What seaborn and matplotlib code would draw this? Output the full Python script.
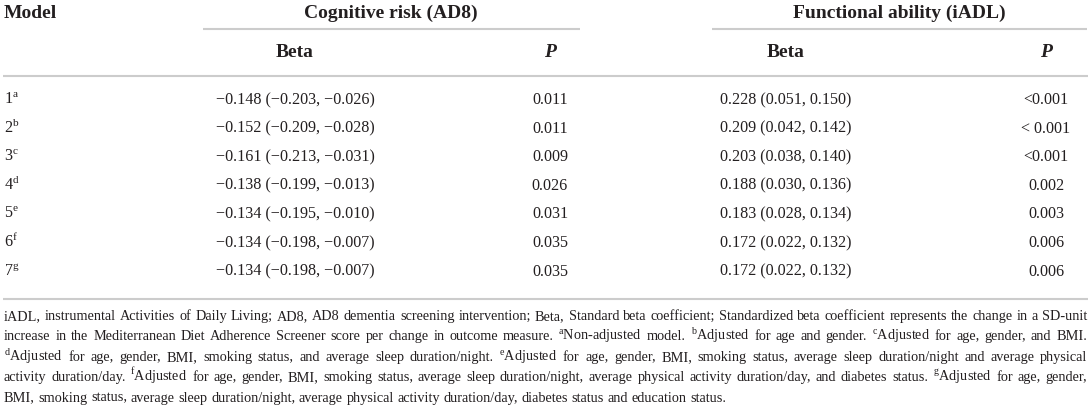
import matplotlib
matplotlib.use("Agg")
import matplotlib.pyplot as plt
import seaborn as sns

models = ["1", "2", "3", "4", "5", "6", "7"]
model_sups = ["a", "b", "c", "d", "e", "f", "g"]
cog_beta = ["\u22120.148 (\u22120.203, \u22120.026)", "\u22120.152 (\u22120.209, \u22120.028)",
            "\u22120.161 (\u22120.213, \u22120.031)", "\u22120.138 (\u22120.199, \u22120.013)",
            "\u22120.134 (\u22120.195, \u22120.010)", "\u22120.134 (\u22120.198, \u22120.007)",
            "\u22120.134 (\u22120.198, \u22120.007)"]
cog_p = ["0.011", "0.011", "0.009", "0.026", "0.031", "0.035", "0.035"]
fun_beta = ["0.228 (0.051, 0.150)", "0.209 (0.042, 0.142)", "0.203 (0.038, 0.140)",
            "0.188 (0.030, 0.136)", "0.183 (0.028, 0.134)", "0.172 (0.022, 0.132)",
            "0.172 (0.022, 0.132)"]
fun_p = ["<0.001", "< 0.001", "<0.001", "0.002", "0.003", "0.006", "0.006"]

group_titles = ["Cognitive risk (AD8)", "Functional ability (iADL)"]

footnote_lines = [
    "iADL, instrumental Activities of Daily Living; AD8, AD8 dementia screening intervention; Beta, Standard beta coefficient; Standardized beta coefficient represents the change in a SD-unit",
    "increase in the Mediterranean Diet Adherence Screener score per change in outcome measure. $^{\\mathrm{a}}$Non-adjusted model. $^{\\mathrm{b}}$Adjusted for age and gender. $^{\\mathrm{c}}$Adjusted for age, gender, and BMI.",
    "$^{\\mathrm{d}}$Adjusted for age, gender, BMI, smoking status, and average sleep duration/night. $^{\\mathrm{e}}$Adjusted for age, gender, BMI, smoking status, average sleep duration/night and average physical",
    "activity duration/day. $^{\\mathrm{f}}$Adjusted for age, gender, BMI, smoking status, average sleep duration/night, average physical activity duration/day, and diabetes status. $^{\\mathrm{g}}$Adjusted for age, gender,",
    "BMI, smoking status, average sleep duration/night, average physical activity duration/day, diabetes status and education status.",
]

sns.set_theme(style="white")
plt.rcParams["font.family"] = ["Liberation Serif", "DejaVu Serif"]
plt.rcParams["mathtext.fontset"] = "custom"
plt.rcParams["mathtext.rm"] = "Liberation Serif"

txt = "#231f20"
rule = "#cccccc"
hsize, bsize, fsize = 14, 11.6, 10.3

fig = plt.figure(figsize=(10.91, 4.10), dpi=100)
ax = fig.add_axes([0, 0, 1, 1])
ax.set_xlim(0, 1091)
ax.set_ylim(410, 0)
ax.axis("off")

# header
ax.text(4, 18, "Model", fontsize=hsize, fontweight="bold", color=txt, va="baseline")
ax.text(391, 18, group_titles[0], fontsize=hsize, fontweight="bold", color=txt, ha="center", va="baseline")
ax.text(899, 18, group_titles[1], fontsize=hsize, fontweight="bold", color=txt, ha="center", va="baseline")
ax.hlines(30, 203, 580, color=rule, lw=1.5)
ax.hlines(30, 712, 1087, color=rule, lw=1.5)

col_x = [295, 550, 786, 1046]
for x, lab in zip(col_x, ["Beta", "P", "Beta", "P"]):
    style = "italic" if lab == "P" else "normal"
    ax.text(x, 57, lab, fontsize=hsize, fontweight="bold", fontstyle=style, color=txt,
            ha="center", va="baseline")
ax.hlines(77, 3, 1088, color=rule, lw=1.5)

# body rows
row_y = [104 + 28.6 * i for i in range(len(models))]
for i, y in enumerate(row_y):
    ax.text(4, y, models[i] + "$^{\\mathrm{" + model_sups[i] + "}}$", fontsize=bsize, color=txt, va="baseline")
    ax.text(col_x[0], y, cog_beta[i], fontsize=bsize, color=txt, ha="center", va="baseline")
    ax.text(col_x[1], y, cog_p[i], fontsize=bsize, color=txt, ha="center", va="baseline")
    ax.text(col_x[2], y, fun_beta[i], fontsize=bsize, color=txt, ha="center", va="baseline")
    ax.text(col_x[3], y, fun_p[i], fontsize=bsize, color=txt, ha="center", va="baseline")
ax.hlines(300, 3, 1088, color=rule, lw=1.5)

# footnote, justified line by line
fig.canvas.draw()
renderer = fig.canvas.get_renderer()
probe2 = ax.text(0, 0, "a b", fontsize=fsize)
probe1 = ax.text(0, 0, "ab", fontsize=fsize)
space = probe2.get_window_extent(renderer).width - probe1.get_window_extent(renderer).width
probe1.remove()
probe2.remove()

left, right = 4, 1087
for k, line in enumerate(footnote_lines):
    y = 320 + 20.4 * k
    items = []
    for w in line.split(" "):
        t = ax.text(0, y, w, fontsize=fsize, color=txt, va="baseline")
        items.append((t, t.get_window_extent(renderer).width))
    total = sum(wd for _, wd in items)
    if k < len(footnote_lines) - 1:
        gap = (right - left - total) / (len(items) - 1)
    else:
        gap = space
    x = left
    for t, wd in items:
        t.set_x(x)
        x += wd + gap

fig.savefig("out.png", dpi=100)
